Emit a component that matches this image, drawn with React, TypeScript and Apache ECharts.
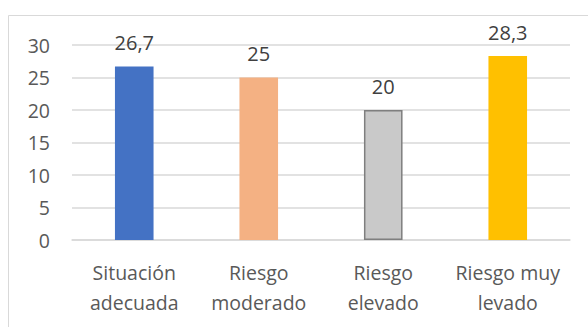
import React, { useEffect, useRef } from "react";
import * as echarts from "echarts";

const categories = ["Situación\nadecuada", "Riesgo\nmoderado", "Riesgo\nelevado", "Riesgo muy\nlevado"];
const values = [26.7, 25, 20, 28.3];
const barColors = ["#4472C4", "#F4B183", "#C9C9C9", "#FFC000"];
const barBorders = ["#4472C4", "#F4B183", "#7F7F7F", "#FFC000"];

const FONT = "'Open Sans', 'Noto Sans', sans-serif";

export default function App() {
  const ref = useRef<HTMLDivElement>(null);

  useEffect(() => {
    if (!ref.current) return;
    const chart = echarts.init(ref.current, undefined, { renderer: "svg" });
    chart.setOption({
      animation: false,
      backgroundColor: "#ffffff",
      graphic: [
        {
          type: "rect",
          shape: { x: 8.5, y: 15.5, width: 620, height: 400 },
          style: { fill: "none", stroke: "#D9D9D9", lineWidth: 1 },
          silent: true,
        },
      ],
      grid: { left: 72, right: 18, top: 45, bottom: 87, containLabel: false },
      xAxis: {
        type: "category",
        data: categories,
        axisLine: { show: true, lineStyle: { color: "#D9D9D9", width: 1.5 } },
        axisTick: { show: false },
        axisLabel: {
          color: "#595959",
          fontFamily: FONT,
          fontSize: 19.5,
          lineHeight: 30,
          margin: 17,
          interval: 0,
        },
      },
      yAxis: {
        type: "value",
        min: 0,
        max: 30,
        interval: 5,
        axisLine: { show: false },
        axisTick: { show: false },
        splitLine: { lineStyle: { color: "#D9D9D9", width: 1.5 } },
        axisLabel: {
          color: "#595959",
          fontFamily: FONT,
          fontSize: 19.5,
          margin: 22,
        },
      },
      series: [
        {
          type: "bar",
          barWidth: "31%",
          data: values.map((v, i) => ({
            value: v,
            itemStyle: {
              color: barColors[i],
              borderColor: barBorders[i],
              borderWidth: i === 2 ? 1.5 : 0,
            },
          })),
          label: {
            show: true,
            position: "top",
            distance: 14,
            color: "#404040",
            fontFamily: FONT,
            fontSize: 20,
            formatter: (p: any) => String(p.value).replace(".", ","),
          },
        },
      ],
    });
    return () => chart.dispose();
  }, []);

  return (
    <div
      ref={ref}
      style={{ position: "fixed", left: 0, top: 0, width: 588, height: 327 }}
    />
  );
}
